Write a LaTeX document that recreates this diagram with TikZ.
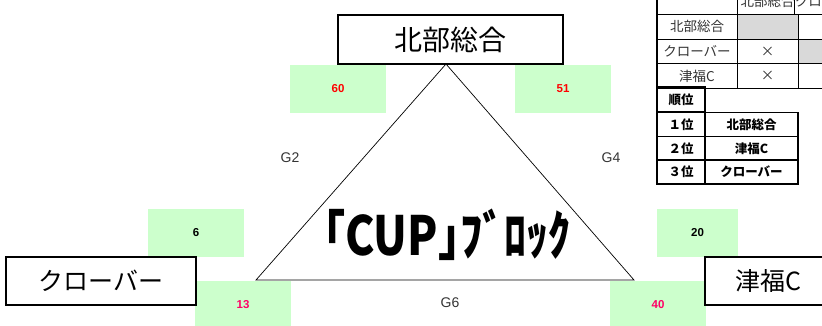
\documentclass[tikz,border=0pt]{standalone}
\usepackage{fontspec}
\usepackage{graphicx}
\setmainfont{Liberation Sans}
\newfontfamily\jp{Noto Sans CJK JP}

\definecolor{cor_verde}{HTML}{CCFFCC}
\definecolor{cor_vermelho}{HTML}{FF0000}
\definecolor{cor_rosa}{HTML}{FF0066}
\definecolor{cor_cinza}{HTML}{D9D9D9}
\definecolor{cor_texto}{HTML}{333333}

\begin{document}
\begin{tikzpicture}[x=1pt,y=-1pt]
        \tikzset{
            equipe/.style={
                draw,
                line width=2pt,
                fill=white,
                inner sep=0pt,
                minimum width=#1,
                minimum height=48pt,
                font=\jp\fontsize{25}{25}\selectfont
            },
            verde/.style={
                fill=cor_verde,
                text=#1,
                inner sep=0pt,
                minimum width=96pt,
                minimum height=48pt,
                font=\bfseries\fontsize{11.5}{12}\selectfont
            },
            jogo/.style={
                text=cor_texto,
                font=\fontsize{14}{14}\selectfont
            },
            cel/.style={
                draw,
                line width=0.8pt,
                fill=#1,
                inner sep=0pt,
                minimum height=25pt,
                text=cor_texto,
                font=\jp\fontsize{13.5}{14}\selectfont
            },
            rank/.style={
                draw,
                line width=1.8pt,
                inner sep=0pt,
                minimum height=24pt,
                font=\jp\bfseries\fontsize{12.5}{13}\selectfont
            }
        }
        \useasboundingbox (0,0) rectangle (822,325);

        \foreach \x/\y/\n/\c in {338/88.5/60/cor_vermelho, 563/88.5/51/cor_vermelho, 196/233/6/black, 243/305/13/cor_rosa, 658/305/40/cor_rosa} { %CAIXAS VERDES
            \node[verde=\c] (v\n) at (\x,\y) {\n};
        }
        \node[verde=black, minimum width=81pt] (v20) at (697.5,233) {20};

        \coordinate (topo) at (446,64);
        \coordinate (esq) at (256,280);
        \coordinate (dir) at (634,280);
        \draw[line width=0.7pt] (topo) -- (esq) -- (dir) -- cycle;

        \node[jogo] (g2) at (290,158) {G2};
        \node[jogo] (g4) at (611,158) {G4};
        \node[jogo] (g6) at (450,303) {G6};

        \node[font=\jp\bfseries\fontsize{54}{54}\selectfont] (titulo) at (447,235) {\scalebox{0.82}[1]{｢CUP｣ﾌﾞﾛｯｸ}};

        \node[equipe=225pt, minimum height=49pt, font=\jp\fontsize{28}{28}\selectfont] (hokubu) at (450.5,39.5) {北部総合};
        \node[equipe=190pt] (clover) at (101,281) {クローバー};
        \node[equipe=126pt] (tsufuku) at (768,281) {津福C};

        \foreach \lin/\y/\txt in {0/1.5/{}, 1/26.5/北部総合, 2/51.5/クローバー, 3/76/津福C} { %TABELA
            \node[cel=white, minimum width=80pt] (a\lin) at (697,\y) {\txt};
        }
        \foreach \lin/\y/\txt/\f in {0/1.5/北部総合/white, 1/26.5/{}/cor_cinza, 2/51.5/×/white, 3/76/×/white} { %TABELA
            \node[cel=\f, minimum width=61pt] (b\lin) at (767.5,\y) {\txt};
        }
        \foreach \lin/\y/\txt/\f in {0/1.5/クローバー/white, 1/26.5/{}/white, 2/51.5/{}/cor_cinza, 3/76/{}/white} { %TABELA
            \node[cel=\f, minimum width=61pt] (c\lin) at (828.5,\y) {\txt};
        }
        \draw[line width=1.8pt] (a0.north west) -- (a3.south west);

        \node[rank, minimum width=48pt, minimum height=25pt] (juni) at (681,99.5) {順位};
        \foreach \lin/\y/\pos/\eq in {1/124.5/１位/北部総合, 2/148.5/２位/津福C, 3/172/３位/クローバー} { %CLASSIFICACAO
            \node[rank, minimum width=48pt] (p\lin) at (681,\y) {\pos};
            \node[rank, minimum width=93pt] (e\lin) at (751.5,\y) {\eq};
        }

    \end{tikzpicture}
\end{document}
